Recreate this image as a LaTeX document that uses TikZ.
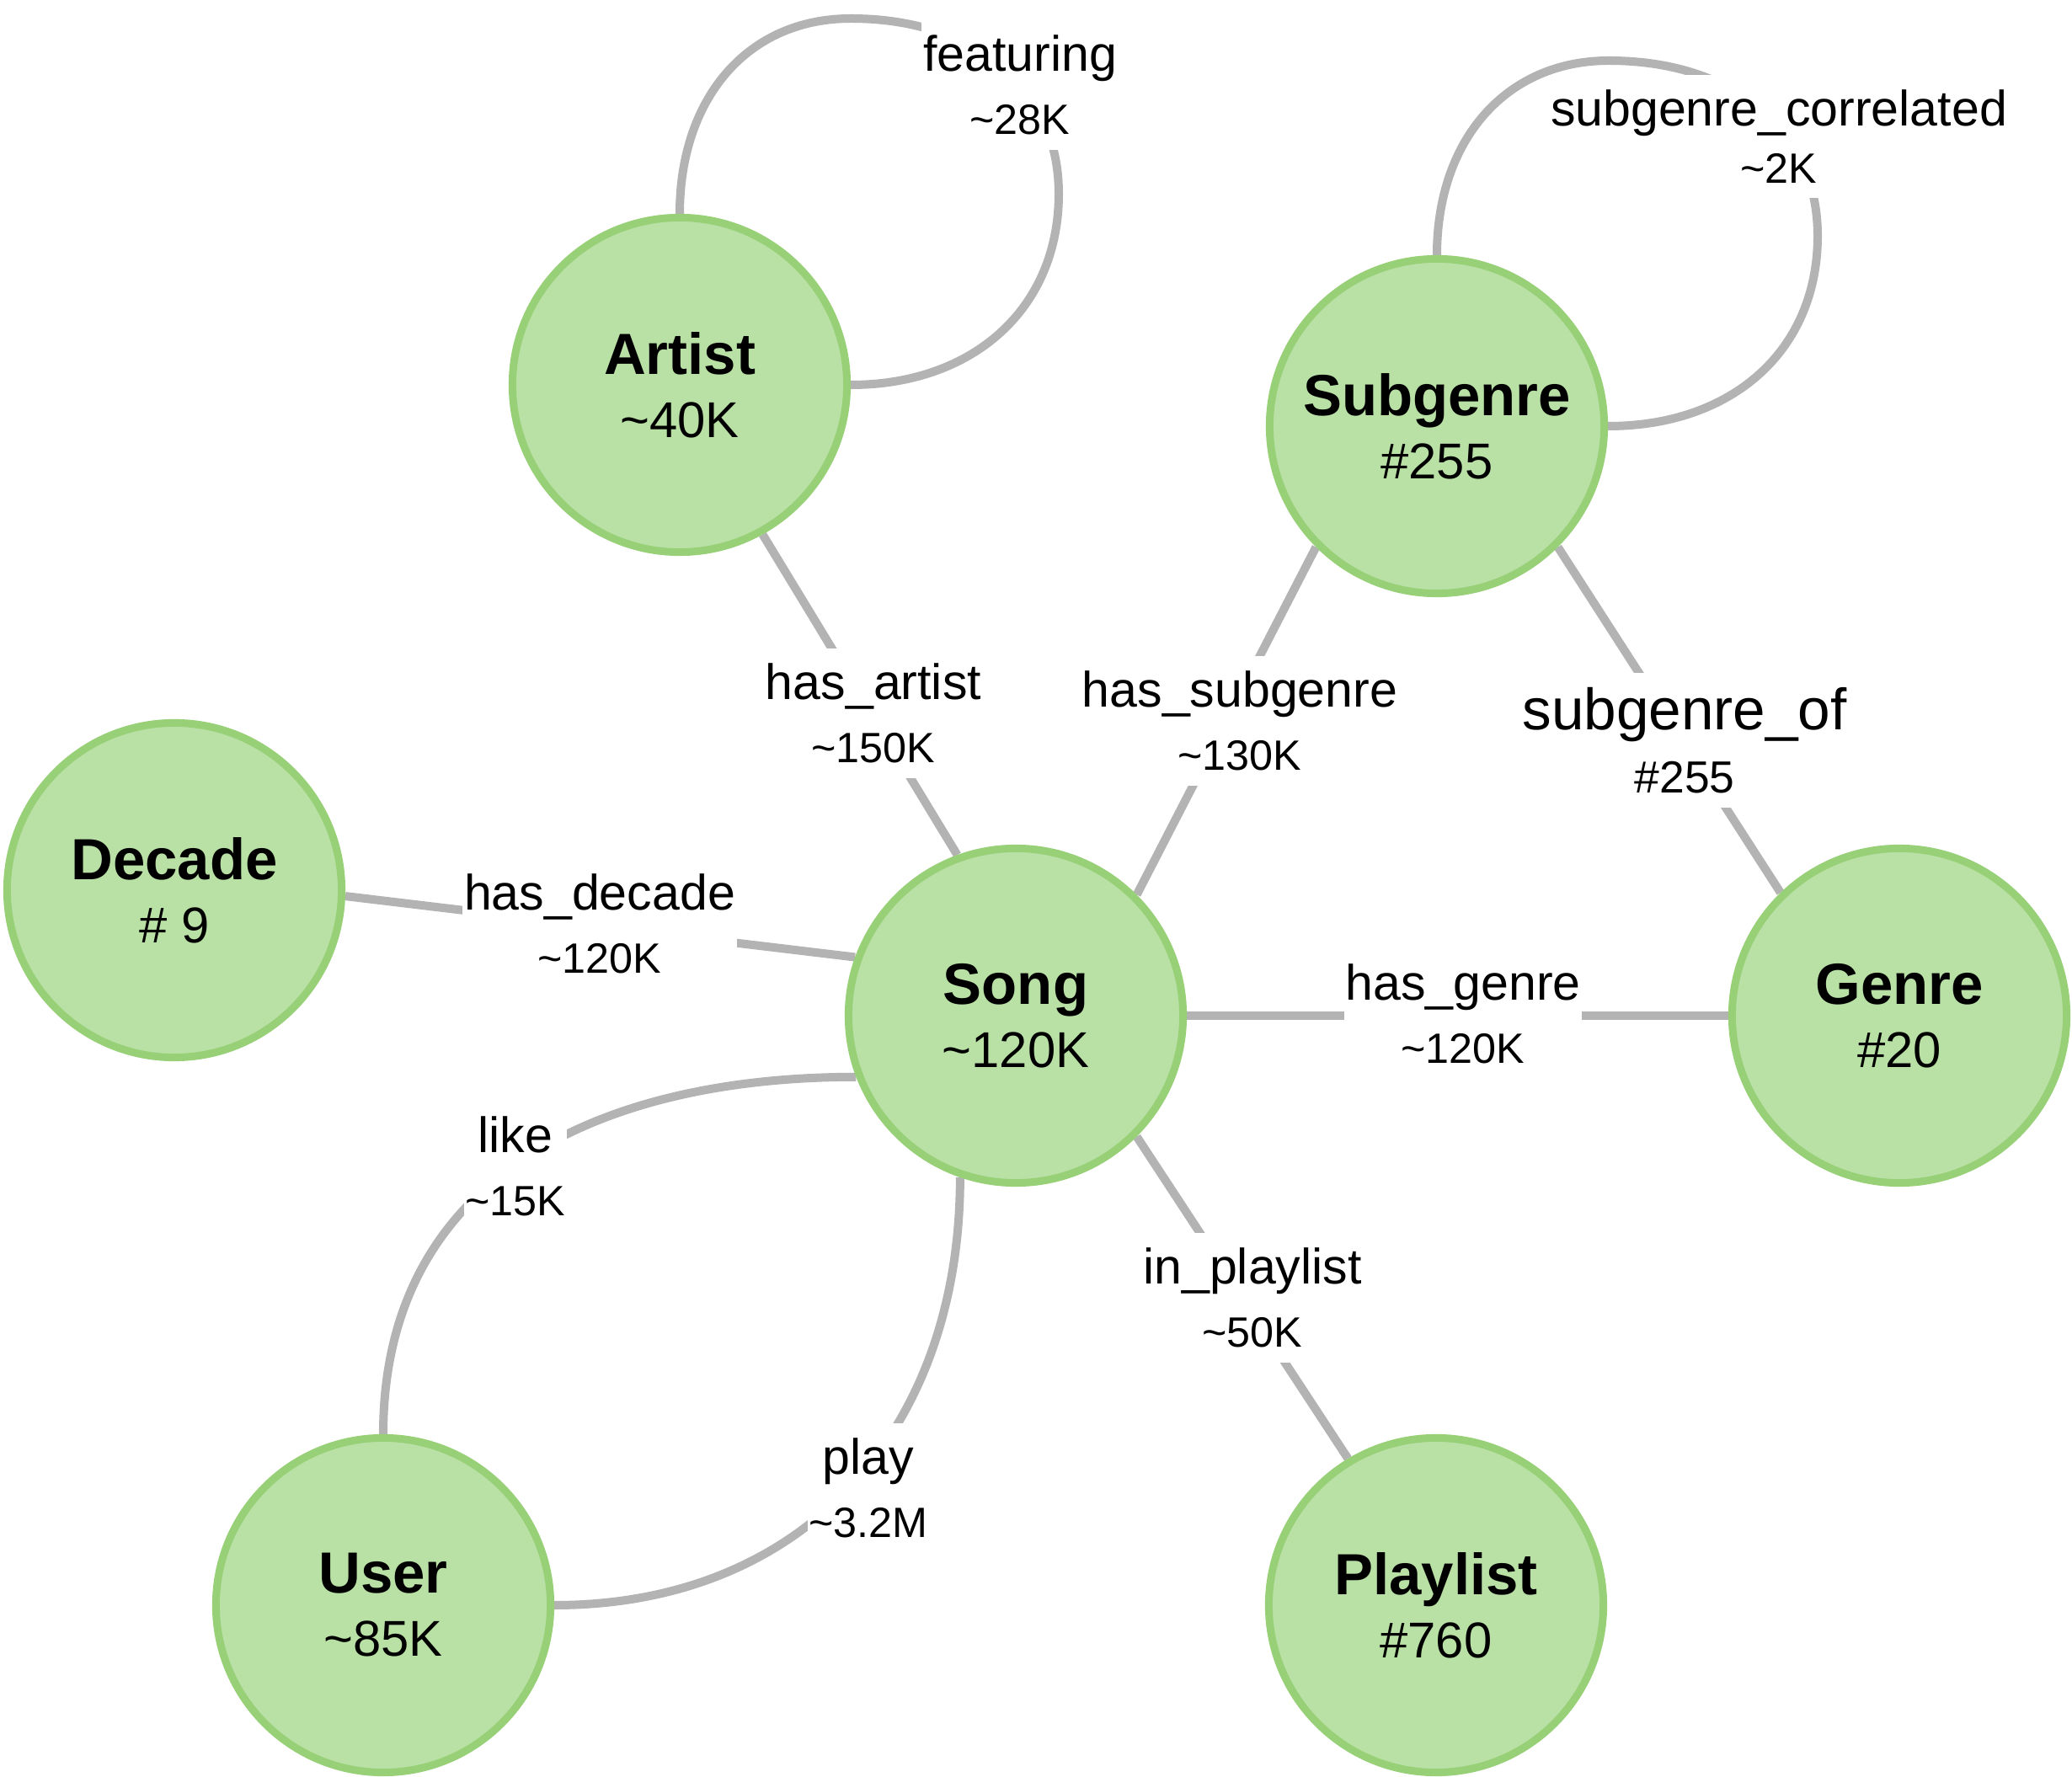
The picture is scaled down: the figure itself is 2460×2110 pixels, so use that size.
\documentclass[tikz,border=0pt]{standalone}
\usepackage{fontspec}
\setmainfont{Liberation Sans}
\usetikzlibrary{backgrounds}
\definecolor{nodefill}{HTML}{B9E0A5}
\definecolor{nodeline}{HTML}{97D077}
\definecolor{edgegray}{HTML}{B3B3B3}
\newcommand{\tld}{\textasciitilde}
\newcommand{\nname}[1]{{\fontsize{19.6}{21.3}\selectfont\bfseries #1}}
\newcommand{\elab}[1]{{\fontsize{16.8}{21.5}\selectfont #1}}
\tikzset{
  ent/.style={circle, draw=nodeline, fill=nodefill, line width=0.09cm,
    minimum size=3.97cm, inner sep=0pt, align=center, text=black,
    font=\fontsize{17}{21.3}\selectfont},
  edge/.style={draw=edgegray, line width=0.1cm},
  elabel/.style={fill=white, inner xsep=0.5pt, inner ysep=5pt, align=center,
    text=black, font=\fontsize{14.3}{21.5}\selectfont},
}
\begin{document}
\begin{tikzpicture}[x=0.01cm, y=-0.01cm]
\begin{scope}[on background layer]
\fill[white] (0,0) rectangle (2460,2110);
\end{scope}
\useasboundingbox (0,0) rectangle (2460,2110);

% entity nodes
\node[ent] (Artist)   at (807,457)   {\nname{Artist}\\\tld40K};
\node[ent] (Subgenre) at (1706,506)  {\nname{Subgenre}\\\#255};
\node[ent] (Decade)   at (207,1057)  {\nname{Decade}\\\# 9};
\node[ent] (Song)     at (1206,1206) {\nname{Song}\\\tld120K};
\node[ent] (Genre)    at (2255,1206) {\nname{Genre}\\\#20};
\node[ent] (User)     at (455,1906)  {\nname{User}\\\tld85K};
\node[ent] (Playlist) at (1705,1906) {\nname{Playlist}\\\#760};

% connectors
\begin{scope}[on background layer]
\draw[edge] (Artist.north) .. controls (807,116) and (888,22) .. (1010,22)
  .. controls (1158,22) and (1257,105) .. (1257,230)
  .. controls (1257,366) and (1156,457) .. (Artist.east);
\draw[edge] (Subgenre.north) .. controls (1706,166) and (1788,72) .. (1910,72)
  .. controls (2059,72) and (2158,155) .. (2158,280)
  .. controls (2158,416) and (2057,506) .. (Subgenre.east);
\draw[edge] (Artist.299) -- (Song.110.8);
\draw[edge] (Subgenre.225.9) -- (Song.45.3);
\draw[edge] (Subgenre.315.6) -- (Genre.134.4);
\draw[edge] (Decade.358.7) -- (Song.160.5);
\draw[edge] (Song.east) -- (Genre.west);
\draw[edge] (Song.315.6) -- (Playlist.121.8);
\draw[edge] (User.north) .. controls +(0,-304) and +(-307,0) .. (Song.201);
\draw[edge] (Song.251) .. controls +(0,300) and +(297,0) .. (User.east);
\end{scope}

% connector labels
\node[elabel] (lfeat)  at (1211,101)  {\elab{featuring}\\\tld28K};
\node[elabel, font=\fontsize{14.3}{19.2}\selectfont] (lcorr) at (2112,162)
  {{\fontsize{16.8}{19.2}\selectfont subgenre\_correlated}\\\tld2K};
\node[elabel] (lart)   at (1037,847)  {\elab{has\_artist}\\\tld150K};
\node[elabel] (lsub)   at (1472,856)  {\elab{has\_subgenre}\\\tld130K};
\node[elabel, font=\fontsize{15.2}{21.2}\selectfont] (lsubof) at (2000,879)
  {{\fontsize{19.7}{21.2}\selectfont subgenre\_of}\\\#255};
\node[elabel] (ldec)   at (712,1097)  {\elab{has\_decade}\\\tld120K};
\node[elabel] (lgen)   at (1737,1204) {\elab{has\_genre}\\\tld120K};
\node[elabel] (lpl)    at (1487,1541) {\elab{in\_playlist}\\\tld50K};
\node[elabel] (llike)  at (612,1385)  {\elab{like}\\\tld15K};
\node[elabel] (lplay)  at (1031,1767) {\elab{play}\\\tld3.2M};
\end{tikzpicture}
\end{document}
